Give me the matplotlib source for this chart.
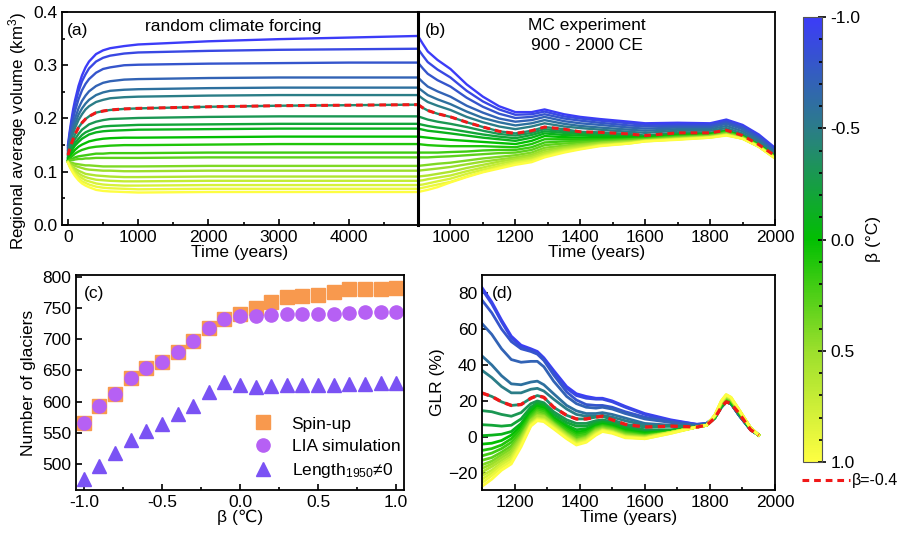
import numpy as np
import matplotlib
matplotlib.use('Agg')
import matplotlib.pyplot as plt
from matplotlib.colors import LinearSegmentedColormap, Normalize
from matplotlib.cm import ScalarMappable
from matplotlib.ticker import MultipleLocator, FixedLocator, FormatStrFormatter
from matplotlib.lines import Line2D

plt.rcParams['font.family'] = ['Liberation Sans', 'DejaVu Sans']
plt.rcParams['font.size'] = 12.5
plt.rcParams['mathtext.default'] = 'regular'
plt.rcParams['axes.linewidth'] = 1.2

# ---------------- data ----------------
beta = [-1.0, -0.9, -0.8, -0.7, -0.6, -0.5, -0.4, -0.3, -0.2, -0.1, 0.0,
        0.1, 0.2, 0.3, 0.4, 0.5, 0.6, 0.7, 0.8, 0.9, 1.0]
highlight_beta = -0.4

# (a) spin-up, random climate forcing
time_a = [0, 25, 50, 75, 100, 150, 200, 250, 300, 400, 500, 600, 800, 1000, 2000, 3000, 4000, 4985]
vol_a = [
    [0.150, 0.176, 0.198, 0.218, 0.234, 0.261, 0.281, 0.296, 0.307, 0.321, 0.328, 0.332, 0.336, 0.339, 0.345, 0.349, 0.352, 0.355],
    [0.147, 0.171, 0.192, 0.210, 0.226, 0.251, 0.270, 0.283, 0.294, 0.307, 0.314, 0.318, 0.322, 0.324, 0.327, 0.329, 0.330, 0.331],
    [0.144, 0.165, 0.184, 0.200, 0.214, 0.236, 0.253, 0.265, 0.274, 0.286, 0.293, 0.296, 0.300, 0.301, 0.303, 0.304, 0.305, 0.305],
    [0.141, 0.159, 0.175, 0.189, 0.200, 0.219, 0.233, 0.243, 0.251, 0.261, 0.267, 0.270, 0.273, 0.274, 0.276, 0.277, 0.277, 0.277],
    [0.138, 0.154, 0.168, 0.180, 0.190, 0.207, 0.219, 0.228, 0.235, 0.244, 0.249, 0.252, 0.254, 0.255, 0.257, 0.258, 0.258, 0.258],
    [0.135, 0.150, 0.162, 0.173, 0.182, 0.197, 0.208, 0.217, 0.223, 0.231, 0.235, 0.238, 0.240, 0.241, 0.243, 0.244, 0.244, 0.244],
    [0.131, 0.143, 0.153, 0.162, 0.170, 0.183, 0.192, 0.199, 0.204, 0.211, 0.214, 0.216, 0.218, 0.219, 0.222, 0.224, 0.225, 0.226],
    [0.128, 0.138, 0.147, 0.154, 0.161, 0.171, 0.179, 0.184, 0.189, 0.194, 0.197, 0.199, 0.200, 0.201, 0.203, 0.204, 0.204, 0.204],
    [0.126, 0.135, 0.142, 0.148, 0.154, 0.162, 0.169, 0.174, 0.177, 0.182, 0.185, 0.186, 0.187, 0.188, 0.189, 0.190, 0.190, 0.190],
    [0.124, 0.132, 0.138, 0.144, 0.149, 0.156, 0.162, 0.166, 0.170, 0.174, 0.176, 0.177, 0.178, 0.179, 0.180, 0.181, 0.181, 0.181],
    [0.122, 0.128, 0.133, 0.137, 0.141, 0.147, 0.151, 0.154, 0.157, 0.160, 0.162, 0.163, 0.164, 0.164, 0.165, 0.166, 0.166, 0.166],
    [0.121, 0.125, 0.128, 0.131, 0.134, 0.138, 0.141, 0.143, 0.145, 0.147, 0.148, 0.149, 0.150, 0.150, 0.151, 0.152, 0.152, 0.152],
    [0.120, 0.122, 0.124, 0.125, 0.127, 0.129, 0.130, 0.131, 0.132, 0.134, 0.134, 0.135, 0.135, 0.135, 0.136, 0.136, 0.136, 0.136],
    [0.120, 0.121, 0.122, 0.122, 0.123, 0.124, 0.124, 0.125, 0.125, 0.126, 0.126, 0.126, 0.126, 0.126, 0.127, 0.127, 0.127, 0.127],
    [0.119, 0.118, 0.117, 0.116, 0.115, 0.114, 0.113, 0.112, 0.112, 0.111, 0.110, 0.110, 0.110, 0.110, 0.111, 0.111, 0.111, 0.111],
    [0.119, 0.117, 0.114, 0.113, 0.111, 0.109, 0.107, 0.105, 0.104, 0.103, 0.102, 0.102, 0.101, 0.101, 0.102, 0.102, 0.102, 0.102],
    [0.118, 0.114, 0.111, 0.108, 0.106, 0.102, 0.099, 0.096, 0.095, 0.093, 0.092, 0.091, 0.090, 0.090, 0.091, 0.091, 0.091, 0.091],
    [0.118, 0.113, 0.109, 0.105, 0.102, 0.097, 0.093, 0.090, 0.088, 0.085, 0.084, 0.083, 0.082, 0.082, 0.083, 0.083, 0.083, 0.083],
    [0.118, 0.112, 0.107, 0.102, 0.098, 0.092, 0.088, 0.084, 0.082, 0.078, 0.076, 0.075, 0.074, 0.074, 0.075, 0.075, 0.075, 0.075],
    [0.117, 0.110, 0.104, 0.099, 0.095, 0.088, 0.082, 0.079, 0.076, 0.072, 0.070, 0.069, 0.068, 0.067, 0.068, 0.068, 0.068, 0.068],
    [0.117, 0.109, 0.103, 0.097, 0.092, 0.084, 0.078, 0.074, 0.071, 0.066, 0.064, 0.063, 0.062, 0.061, 0.062, 0.062, 0.062, 0.062],
]

# (b) MC experiment 900 - 2000 CE
time_b = [900, 915, 930, 960, 1000, 1050, 1100, 1150, 1200, 1250, 1290, 1350, 1400, 1460,
          1550, 1600, 1700, 1800, 1850, 1900, 1950, 2000]
vol_b = [
    [0.355, 0.340, 0.326, 0.310, 0.293, 0.264, 0.241, 0.223, 0.212, 0.212, 0.217, 0.208, 0.203, 0.199, 0.194, 0.191, 0.192, 0.191, 0.198, 0.188, 0.170, 0.145],
    [0.331, 0.318, 0.306, 0.292, 0.277, 0.252, 0.232, 0.217, 0.207, 0.208, 0.213, 0.204, 0.200, 0.196, 0.191, 0.188, 0.189, 0.189, 0.196, 0.186, 0.168, 0.143],
    [0.305, 0.294, 0.284, 0.272, 0.260, 0.239, 0.222, 0.209, 0.201, 0.203, 0.208, 0.200, 0.196, 0.192, 0.187, 0.185, 0.186, 0.186, 0.193, 0.183, 0.165, 0.141],
    [0.277, 0.268, 0.260, 0.251, 0.241, 0.224, 0.211, 0.200, 0.194, 0.197, 0.203, 0.195, 0.191, 0.188, 0.183, 0.181, 0.183, 0.183, 0.190, 0.180, 0.162, 0.138],
    [0.258, 0.251, 0.244, 0.236, 0.227, 0.213, 0.201, 0.193, 0.187, 0.191, 0.197, 0.190, 0.186, 0.183, 0.179, 0.177, 0.180, 0.180, 0.186, 0.176, 0.159, 0.136],
    [0.244, 0.237, 0.231, 0.224, 0.216, 0.203, 0.193, 0.185, 0.180, 0.185, 0.191, 0.185, 0.182, 0.179, 0.175, 0.173, 0.177, 0.177, 0.182, 0.172, 0.156, 0.133],
    [0.226, 0.220, 0.215, 0.209, 0.203, 0.193, 0.184, 0.176, 0.172, 0.177, 0.184, 0.180, 0.175, 0.174, 0.171, 0.168, 0.173, 0.173, 0.178, 0.168, 0.151, 0.130],
    [0.204, 0.201, 0.198, 0.194, 0.190, 0.184, 0.177, 0.171, 0.168, 0.173, 0.180, 0.176, 0.173, 0.171, 0.168, 0.167, 0.171, 0.172, 0.177, 0.168, 0.151, 0.130],
    [0.190, 0.188, 0.186, 0.183, 0.180, 0.175, 0.170, 0.166, 0.163, 0.169, 0.176, 0.173, 0.171, 0.169, 0.167, 0.166, 0.170, 0.171, 0.177, 0.167, 0.151, 0.130],
    [0.181, 0.179, 0.177, 0.175, 0.172, 0.168, 0.164, 0.161, 0.158, 0.164, 0.172, 0.169, 0.168, 0.167, 0.166, 0.165, 0.169, 0.171, 0.176, 0.167, 0.151, 0.129],
    [0.166, 0.165, 0.164, 0.162, 0.160, 0.158, 0.156, 0.154, 0.152, 0.158, 0.167, 0.165, 0.164, 0.164, 0.164, 0.164, 0.168, 0.170, 0.176, 0.166, 0.150, 0.129],
    [0.152, 0.151, 0.150, 0.149, 0.148, 0.148, 0.148, 0.147, 0.146, 0.152, 0.161, 0.161, 0.161, 0.161, 0.162, 0.163, 0.167, 0.169, 0.175, 0.166, 0.150, 0.128],
    [0.136, 0.136, 0.136, 0.136, 0.137, 0.138, 0.140, 0.141, 0.141, 0.146, 0.155, 0.157, 0.158, 0.159, 0.161, 0.162, 0.166, 0.168, 0.174, 0.165, 0.149, 0.128],
    [0.127, 0.127, 0.127, 0.128, 0.129, 0.131, 0.133, 0.135, 0.136, 0.141, 0.150, 0.153, 0.155, 0.157, 0.160, 0.161, 0.165, 0.168, 0.173, 0.165, 0.149, 0.127],
    [0.111, 0.112, 0.113, 0.115, 0.117, 0.121, 0.125, 0.128, 0.131, 0.136, 0.145, 0.149, 0.152, 0.155, 0.158, 0.160, 0.164, 0.167, 0.172, 0.164, 0.148, 0.127],
    [0.102, 0.103, 0.104, 0.106, 0.109, 0.114, 0.119, 0.123, 0.127, 0.132, 0.141, 0.146, 0.150, 0.154, 0.157, 0.159, 0.163, 0.166, 0.171, 0.164, 0.148, 0.127],
    [0.091, 0.092, 0.093, 0.096, 0.100, 0.107, 0.113, 0.119, 0.124, 0.129, 0.137, 0.144, 0.148, 0.152, 0.156, 0.159, 0.162, 0.166, 0.170, 0.163, 0.148, 0.126],
    [0.083, 0.084, 0.086, 0.089, 0.093, 0.101, 0.108, 0.115, 0.121, 0.126, 0.134, 0.142, 0.146, 0.151, 0.155, 0.158, 0.162, 0.165, 0.170, 0.163, 0.147, 0.126],
    [0.075, 0.076, 0.078, 0.082, 0.087, 0.096, 0.104, 0.111, 0.118, 0.123, 0.131, 0.140, 0.144, 0.150, 0.154, 0.158, 0.161, 0.165, 0.169, 0.162, 0.147, 0.126],
    [0.068, 0.070, 0.072, 0.076, 0.081, 0.091, 0.100, 0.108, 0.116, 0.121, 0.129, 0.138, 0.143, 0.149, 0.153, 0.157, 0.161, 0.164, 0.169, 0.162, 0.147, 0.125],
    [0.062, 0.064, 0.066, 0.071, 0.080, 0.090, 0.099, 0.106, 0.113, 0.118, 0.127, 0.136, 0.142, 0.148, 0.153, 0.157, 0.160, 0.164, 0.168, 0.162, 0.147, 0.125],
]

# (c) number of glaciers
spinup = [565, 593, 612, 637, 654, 664, 680, 697, 718, 732, 741, 750, 760, 767, 770, 771, 776, 780, 780, 781, 782]
lia_sim = [565, 593, 612, 637, 654, 664, 680, 697, 718, 732, 738, 738, 739, 741, 741, 741, 741, 742, 743, 743, 743]
length1950 = [476, 497, 517, 538, 553, 564, 580, 593, 615, 631, 627, 623, 625, 626, 627, 627, 627, 628, 628, 629, 629]

# (d) GLR (%)
time_d = [1100, 1130, 1160, 1190, 1220, 1250, 1270, 1290, 1320, 1360, 1390, 1420, 1450, 1470,
          1500, 1540, 1600, 1680, 1760, 1790, 1815, 1835, 1850, 1865, 1890, 1925, 1950]
glr_d = [
    [83, 75, 65, 56, 51, 49, 47.5, 44, 37, 28, 24, 22.5, 21.5, 21.5, 20, 17, 13, 9.5, 7, 7.5, 11, 17, 20, 18.5, 12, 4, 1],
    [82, 74, 64, 55, 50, 48.5, 47, 43.5, 36, 27, 23, 21.5, 21, 21, 19.5, 16.5, 12.5, 9, 7, 7.5, 11, 17, 20, 18.5, 12, 4, 1],
    [76, 69, 60, 53, 49, 47.5, 46, 42.5, 34.5, 25, 20.5, 18, 17.5, 17.5, 16.5, 14, 11, 8.5, 6.5, 7.5, 11, 16.5, 19.5, 18.5, 12, 4, 1],
    [63, 57, 49, 43, 41.5, 42, 42, 39, 31, 22.5, 18.5, 16.5, 16, 16.5, 15.5, 13, 10, 8, 6.5, 7.5, 11, 16.5, 19.5, 18.5, 12, 4, 1],
    [45, 40, 34, 29.5, 29, 30.5, 31, 29, 24, 17.5, 14.5, 13, 13, 13.5, 12.5, 10.5, 7.5, 6.5, 6, 7, 10.5, 16.5, 19.5, 18.5, 12, 4, 1],
    [37, 33, 28, 24.5, 24.5, 26.5, 27, 25.5, 21, 15.5, 12.5, 11.5, 11.5, 12, 11, 9, 6.5, 6, 6, 7, 10.5, 16.5, 19.5, 18.5, 12, 4, 1],
    [24.4, 22.5, 19.5, 17.5, 18, 21.5, 23, 22, 16.5, 12, 10, 10, 11, 11.5, 9.5, 7, 5.5, 6, 5.5, 6.5, 10.5, 16.5, 19.5, 18.5, 13, 4, 1],
    [14.6, 14, 12.5, 11.5, 13.5, 18.5, 20, 19, 14, 9.5, 7.5, 7.5, 9, 9.5, 8.5, 6, 4, 4, 5.5, 6.5, 10.5, 17, 20, 19, 13, 4.5, 1],
    [6.8, 6.5, 6, 6.5, 10, 16.5, 19, 18, 12.5, 8, 6, 6, 8, 8.5, 7.5, 5, 3, 3.5, 5.5, 6.5, 10.5, 17, 20.5, 19, 13, 4.5, 1],
    [0.7, 1, 1.5, 3, 7.5, 15, 18, 17, 11, 6.5, 4, 4.5, 7, 8, 7, 4.5, 2.5, 3, 5.5, 6.5, 11, 17.5, 21, 19.5, 13.5, 4.5, 1],
    [-4, -3.5, -2, 1, 6, 13.5, 17, 16, 10, 5.5, 2.5, 3.5, 6, 7, 6, 3.5, 2, 3, 5.5, 6.5, 11, 17.5, 21, 19.5, 13.5, 4.5, 1],
    [-7.5, -6.5, -4.5, -1, 4.5, 12.5, 16, 15, 9.5, 4.5, 1.5, 2.5, 5.5, 6.5, 5.5, 3, 1.5, 3, 5.5, 6.5, 11, 18, 21.5, 20, 14, 5, 1],
    [-10.5, -9, -6.5, -3, 3, 11.5, 15, 14, 8.5, 3.5, 0.5, 1.5, 5, 6, 5, 2.5, 1, 2.5, 5.5, 6.5, 11, 18, 21.5, 20, 14, 5, 1],
    [-13, -11.5, -8.5, -5, 1.5, 10.5, 14, 13, 8, 2.5, -0.5, 0.5, 4.5, 5.5, 4.5, 2, 0.5, 2.5, 5.5, 6.5, 11.5, 18.5, 22, 20.5, 14, 5, 1],
    [-15.5, -13.5, -10, -6.5, 0.5, 9.5, 13, 12, 7.5, 2, -1.5, 0, 4, 5, 4, 1.5, 0.5, 2.5, 5.5, 6.5, 11.5, 18.5, 22, 20.5, 14.5, 5, 1],
    [-17.5, -15, -11.5, -8, -0.5, 9, 12, 11.5, 7, 1.5, -2, -0.5, 3.5, 4.5, 3.5, 1, 0, 2.5, 5.5, 6.5, 11.5, 19, 22.5, 21, 14.5, 5, 1],
    [-19.5, -16.5, -13, -9.5, -1.5, 8, 11.5, 11, 6.5, 1, -2.5, -1, 3, 4, 3, 0.5, 0, 2.5, 5.5, 6.5, 12, 19, 22.5, 21, 14.5, 5, 1],
    [-21.5, -18.5, -14.5, -11, -2.5, 7.5, 10.5, 10, 6, 0.5, -3, -1.5, 2.5, 4, 3, 0.5, -0.5, 2.5, 5.5, 6.5, 12, 19.5, 23, 21.5, 15, 5, 1],
    [-23.5, -20, -15.5, -12, -3.5, 7, 10, 9.5, 5.5, 0, -3.5, -2, 2, 3.5, 2.5, 0, -0.5, 2.5, 5.5, 6.5, 12, 19.5, 23, 21.5, 15, 5, 1],
    [-25.5, -21.5, -17, -13.5, -4.5, 6.5, 9.5, 9, 5, -0.5, -4, -2.5, 1.5, 3.5, 2.5, 0, -1, 2, 5.5, 6.5, 12, 20, 23.5, 22, 15, 5, 1],
    [-27.5, -23.5, -18.5, -15, -5.5, 6, 9, 8.5, 4.5, -1, -4.5, -3, 1, 3, 2, -0.5, -1, 2, 5.5, 6.5, 12, 20, 23.5, 22, 15, 5, 1],
]

# ---------------- style ----------------
cmap = LinearSegmentedColormap.from_list(
    'bgy', [(0.0, '#3c3cf8'), (0.25, '#2b7d88'), (0.5, '#02bf02'),
            (0.75, '#9bdf2c'), (1.0, '#fefe42')])
norm = Normalize(vmin=-1.0, vmax=1.0)
RED = '#f01818'
DASH = (0, (2.2, 1.6))

W, H = 900, 533
fig = plt.figure(figsize=(9.0, 5.33), dpi=100)

def rect(l, t, r, b):
    return [l / W, 1 - b / H, (r - l) / W, (b - t) / H]

ax_a = fig.add_axes(rect(62, 12, 418, 225))
ax_b = fig.add_axes(rect(418, 12, 775, 225))
ax_c = fig.add_axes(rect(76, 275, 404, 490))
ax_d = fig.add_axes(rect(482, 275, 775, 490))
cax = fig.add_axes(rect(803, 17, 822, 462))

for ax in (ax_a, ax_b, ax_c, ax_d):
    ax.tick_params(direction='in', which='both', top=False, right=False,
                   length=4, width=1.2, labelsize=12.5)
    ax.tick_params(which='minor', length=2.5)
    for s in ax.spines.values():
        s.set_linewidth(1.3)

# (a)
for b, ys in zip(beta, vol_a):
    ax_a.plot(time_a, ys, color=cmap(norm(b)), lw=1.7)
ax_a.plot(time_a, vol_a[beta.index(highlight_beta)], color=RED, lw=2.2, ls=DASH)
ax_a.set_xlim(-85, 4985)
ax_a.set_ylim(0, 0.4)
ax_a.xaxis.set_major_locator(FixedLocator([0, 1000, 2000, 3000, 4000]))
ax_a.xaxis.set_minor_locator(MultipleLocator(500))
ax_a.yaxis.set_major_locator(MultipleLocator(0.1))
ax_a.yaxis.set_minor_locator(MultipleLocator(0.05))
ax_a.yaxis.set_major_formatter(FormatStrFormatter('%.1f'))
ax_a.set_xlabel('Time (years)', labelpad=0)
ax_a.set_ylabel('Regional average volume (km$^3$)', fontsize=12.2)
ax_a.yaxis.set_label_coords(-0.093, 0.44)
ax_a.text(0.015, 0.95, '(a)', transform=ax_a.transAxes, ha='left', va='top')
ax_a.text(0.48, 0.965, 'random climate forcing', transform=ax_a.transAxes, ha='center', va='top')

# (b)
for b, ys in zip(beta, vol_b):
    ax_b.plot(time_b, ys, color=cmap(norm(b)), lw=1.7)
ax_b.plot(time_b, vol_b[beta.index(highlight_beta)], color=RED, lw=2.2, ls=DASH)
ax_b.set_xlim(900, 2000)
ax_b.set_ylim(0, 0.4)
ax_b.xaxis.set_major_locator(MultipleLocator(200))
ax_b.xaxis.set_minor_locator(MultipleLocator(100))
ax_b.tick_params(left=False, labelleft=False, which='both')
ax_b.set_xlabel('Time (years)', labelpad=0)
ax_b.text(0.02, 0.95, '(b)', transform=ax_b.transAxes, ha='left', va='top')
ax_b.text(0.473, 0.97, 'MC experiment\n900 - 2000 CE', transform=ax_b.transAxes,
          ha='center', va='top', linespacing=1.35)
ax_b.spines['left'].set_linewidth(2.2)

# (c)
ax_c.plot(beta, spinup, ls='none', marker='s', ms=9.5, color='#f8994e', label='Spin-up')
ax_c.plot(beta, lia_sim, ls='none', marker='o', ms=9.5, color='#b660f4', label='LIA simulation')
ax_c.plot(beta, length1950, ls='none', marker='^', ms=10, color='#7a52f4',
          label='Length$_{1950}$≠0')
ax_c.set_xlim(-1.05, 1.05)
ax_c.set_ylim(458, 803)
ax_c.xaxis.set_major_locator(MultipleLocator(0.5))
ax_c.xaxis.set_minor_locator(MultipleLocator(0.25))
ax_c.xaxis.set_major_formatter(FormatStrFormatter('%.1f'))
ax_c.yaxis.set_major_locator(FixedLocator([500, 550, 600, 650, 700, 750, 800]))
ax_c.set_xlabel('β (℃)', labelpad=0)
ax_c.set_ylabel('Number of glaciers', labelpad=4)
ax_c.text(0.025, 0.95, '(c)', transform=ax_c.transAxes, ha='left', va='top')
ax_c.legend(loc='lower right', bbox_to_anchor=(1.02, 0.0), frameon=False,
            handletextpad=0.65, borderaxespad=0.2, labelspacing=0.4, fontsize=12.5)

# (d)
for b, ys in zip(beta, glr_d):
    ax_d.plot(time_d, ys, color=cmap(norm(b)), lw=2.0)
ax_d.plot(time_d, glr_d[beta.index(highlight_beta)], color=RED, lw=2.4, ls=DASH)
ax_d.set_xlim(1100, 2000)
ax_d.set_ylim(-29.5, 90)
ax_d.xaxis.set_major_locator(MultipleLocator(200))
ax_d.xaxis.set_minor_locator(MultipleLocator(100))
ax_d.yaxis.set_major_locator(MultipleLocator(20))
ax_d.set_xlabel('Time (years)', labelpad=0)
ax_d.set_ylabel('GLR (%)', labelpad=2)
ax_d.text(0.035, 0.95, '(d)', transform=ax_d.transAxes, ha='left', va='top')

# colorbar
sm = ScalarMappable(norm=norm, cmap=cmap)
cb = fig.colorbar(sm, cax=cax, orientation='vertical')
cax.invert_yaxis()
cb.set_ticks([-1.0, -0.5, 0.0, 0.5, 1.0])
cb.set_ticklabels(['-1.0', '-0.5', '0.0', '0.5', '1.0'])
cax.yaxis.set_minor_locator(MultipleLocator(0.1))
cax.tick_params(which='major', direction='inout', length=6, width=1.2, labelsize=12.5, pad=3)
cax.tick_params(which='minor', direction='in', length=2.5, width=1.2)
cb.outline.set_linewidth(0.8)
cb.outline.set_edgecolor('#555555')
cb.set_label('β (°C)', fontsize=12.5, labelpad=4)

fig.legend(handles=[Line2D([], [], color=RED, lw=2.2, ls=(0, (2.2, 1.6)))],
           labels=['β=-0.4'], loc='center left', bbox_to_anchor=(802 / W, 1 - 481 / H),
           frameon=False, handlelength=3.0, handletextpad=0.15, fontsize=11.5,
           borderaxespad=0, borderpad=0)

fig.savefig('out.png', dpi=100)
